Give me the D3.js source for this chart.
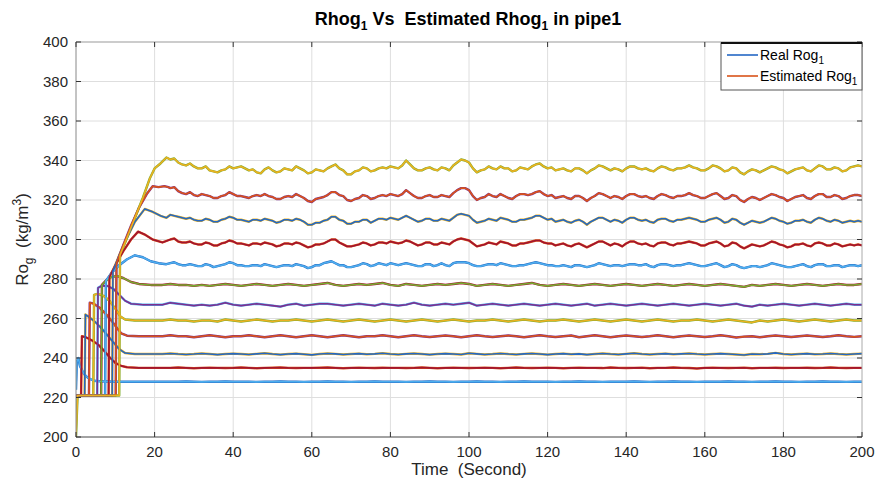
<!DOCTYPE html>
<html>
<head>
<meta charset="utf-8">
<script src="https://cdn.jsdelivr.net/npm/d3@7/dist/d3.min.js"></script>
<style>
  html, body { margin: 0; padding: 0; background: #fff; }
  svg { display: block; }
  text { font-family: "Liberation Sans", Arial, Helvetica, sans-serif; white-space: pre; }
</style>
</head>
<body>
<svg id="chart" width="875" height="483"></svg>
<script>
// ---------------- DATA ----------------
const xTicks = [0, 20, 40, 60, 80, 100, 120, 140, 160, 180, 200];
const yTicks = [200, 220, 240, 260, 280, 300, 320, 340, 360, 380, 400];
const legendLabels = ["Real Rog", "Estimated Rog"];
const matlabColors = ["#2468C4", "#D95319", "#EDB120", "#7E2F8E", "#77AC30", "#4DAEEE", "#A2142F"];

// steady part starts at t = 24 s; sample step (s) for each level (low -> high)
const steadyStart = 24;
const steadyStepByLevel = [2, 2, 2, 2, 2, 2, 2, 1, 1, 1, 1, 1];

// transient part [time, value] for each of the 12 gas densities (low -> high)
const transients = [
  [[0,224],[0.2,238],[0.6,240],[1,236],[2,232],[3,230],[4.5,228.5],[6,228.2],[10,228],[16,228],[22,228]],
  [[0,221],[1.3,221],[1.5,251],[2.5,250.5],[4,249],[5.5,247],[7,244],[8.5,240.5],[10,237.5],[11.5,236],[13,235.3],[16,235],[22,235]],
  [[0,221],[2.2,221],[2.4,262],[3.5,260.5],[5,258],[6.5,255],[8,251.5],[9.5,248],[11,244.5],[12.5,242.5],[15,242],[22,242]],
  [[0,221],[3.3,221],[3.5,268],[4.5,267.5],[6,265.5],[7.5,262.5],[9,259],[10.5,255],[11.5,252.5],[13,251.3],[16,251],[22,251]],
  [[0,221],[4.4,221],[4.6,272],[5.5,272.5],[7,271.5],[8.5,269],[10,265],[11.3,261],[12.5,259.5],[15,259],[22,259]],
  [[0,221],[5.4,221],[5.6,275.5],[6.5,276.5],[8,276.5],[9.5,275],[11,272],[12.5,269],[14,267.5],[17,267],[22,267]],
  [[0,221],[6.4,221],[6.6,277],[7.5,279],[9,281],[10.5,281.5],[12,280.5],[14,278.5],[16,277.5],[19,277],[22,277]],
  [[0,221],[7.4,221],[7.6,279],[9,283],[11,287],[13,290],[15,292],[17,291],[19,289],[21,288],[23,287.5]],
  [[0,221],[8.3,221],[8.5,281],[10,287],[12,294],[14,300],[15.8,304],[17.5,302.5],[19.5,300],[22,298.5]],
  [[0,221],[9.2,221],[9.4,284],[11,292],[13,301],[15,309],[17.5,315.5],[19.5,314],[21.5,312],[23,311]],
  [[0,221],[10.1,221],[10.3,288],[12,297],[14,307],[16,316],[18,323],[19.5,327],[21,326.5],[22.5,327],[23.5,326.5]],
  [[0,200],[0.4,221],[11,221],[11.2,292],[13,301],[15,311],[17,321],[18.8,331],[20,336],[21.5,338.5],[23,341.5]]
];

// ---- steady values, 2 s step ----
const steady228 = [
  228,228,228.1,228,227.9,228,228,228.1,228,228,
  228,227.9,228,228,228.1,228,228,227.9,228,228,
  228.1,228,228,227.9,228,228,228.1,228,228,228,
  227.9,228,228,228.1,228,228,227.9,228,228,228.1,
  228,228,227.9,228,228,228.1,228,228,228,227.9,
  228,228,228.1,228,228,227.9,228,228,228,228.1,
  228,227.9,228,228,228.1,228,228,227.9,228,228,
  228,228.1,228,228,227.9,228,228,228.1,228,228,
  227.9,228,228,228.1,228,228,227.9,228,228
];
const steady235 = [
  235,235.2,235,234.8,235,235.1,235,234.9,235,235.2,
  235,234.8,235,235.1,235.2,235,234.9,235,235,235.1,
  235.2,235,234.8,235,235.1,235,234.9,235.1,235,235,
  234.9,235,235.2,235,234.8,235,235.1,235,234.9,235,
  235.1,235,234.8,235,235.2,235,234.9,235,235.1,235,
  234.8,235,235.1,235,235,234.9,235.2,235,234.9,235,
  235.1,234.8,235,235,235.2,235,234.9,234.7,235,235.1,
  235,234.9,235,235.1,234.8,235,235,235.1,234.9,235,
  235,235.1,234.9,235,235.2,235,234.9,235,235
];
const steady242 = [
  242.3,242,241.8,242,242.3,242,241.7,242,242.2,242,
  241.8,242.1,242.4,242,241.7,242,242.2,241.9,241.6,242,
  242.3,242.1,241.8,242,242.2,241.9,242.1,242.4,242,241.8,
  242.1,242.3,242,241.7,242,242.2,242,241.8,242.4,242.1,
  241.8,242,242.3,242,241.8,242.1,242.3,242,241.7,242,
  242.2,241.9,242.1,241.7,242,242.3,242,241.8,242.1,242.4,
  242,241.8,242,242.2,241.9,242.1,242.3,242,241.8,242,
  242.2,242,241.8,241.5,242,241.9,242.1,242.6,242,241.8,
  242,242.2,241.9,242,242.3,242,241.8,242,242.2
];
const steady251 = [
  251.5,251,251,250.5,251,251.5,251,250.5,251,251,
  251.5,251,250.5,251,251.5,251,250.5,251,251.5,251,
  250.5,251,251.5,251,250.5,251,251,251.5,251,250.5,
  251,251.5,251,250.6,251,251.4,251,250.5,251,251.5,
  251,250.6,251,251.4,251,250.5,251,251.5,251,250.6,
  251,251.4,250.5,251,251.5,251,250.5,251,251.4,251,
  250.6,251,251.5,251,250.5,251,251.4,251,250.6,251,
  251.5,251,250.4,250.8,251,250.5,251,251.4,251,250.6,
  251,251.4,251,250.6,251,251.5,251,250.7,251
];
const steady259 = [
  259.5,259,259,258.5,259,259,258.5,259.5,259,258.5,
  259,259.5,259,258.5,259,259,259.5,259,258.5,259,
  259.5,259,258.5,259,259.5,259,258.5,259,259.5,259,
  258.5,259,259.5,259,258.5,259,259.5,259,258.5,259,
  259,259.5,259,258.5,259,259.5,259,258.5,259,259,
  259.5,259,258.5,259,259.5,259,258.5,259,259.5,259,
  258.5,259,259.5,259,258.5,259,259,259.5,259,258.5,
  259,259.5,259,258.5,258,259,258.5,259,259.5,259,
  258.5,259,259.5,259,258.5,259,259.5,259,259
];
const steady267 = [
  268,267.5,267,266.5,267,266.5,267,268,267,266.5,
  267,267.5,267,266.5,266,267,267.5,266.5,267,267.5,
  267.5,267,266.5,267,267.5,267,266.5,267.5,267,266.5,
  267,268,267,266.5,267,267.5,267,267.5,268,266.5,
  267,267.5,267,266.5,267,267.5,267,266.5,267,267.5,
  267,266.5,267,267.5,266.5,267,267.5,267,266.5,267,
  267.5,267,266.5,267,267.5,267,266.5,267,267.5,267,
  266.5,267,267.5,266.5,266,267,266.5,267,267.5,267,
  266.5,267,267.5,267,266.5,267,267.5,267,267
];
const steady277 = [
  277.5,277,277,276.5,277,276.5,277,277.5,277,276.5,
  277,277.5,277,276.5,277,277.5,277,276.5,277,277.5,
  278,277,276.5,277,277.5,277,277.5,278,277,276.5,
  277.5,277,276.5,277,277.5,277,277.5,278,277.5,276.5,
  277,277.5,277,276.5,277,277.5,278,277,276.5,277,
  277.5,277,276.5,277,277.5,277,276.5,277,277.5,277,
  276.5,277,277.5,277,276.5,277,277.5,277,276.5,277,
  277.5,277,276.5,276,277,276.5,277,277.5,277,276.5,
  277,277.5,277,276.5,277,277.5,277,277,277.5
];

// ---- steady values, 1 s step ----
const steady287 = [
  288,288.5,287.5,287,287,287.5,287,286.5,286.5,287.5,287,286,286.5,287,287.5,288.5,288,287,287,286.5,
  286.5,287,287,286.5,287.5,287,286.5,286,286.5,287,287,286.5,287.5,287,286.5,285.5,286,287,287,288,
  288.5,289,288,287,287,286,286,286.5,287,288,287.5,286.5,287,288,287.5,287,288,287.5,287,287.5,
  288,287.5,287,286.5,286.5,287.5,287.5,286.5,287,288,287,286.5,288,288.5,288.5,288.5,288,287,286.5,286.5,
  287,287.5,287.5,287,288,287.5,287,286.5,286.5,287,287,287.5,288,288.5,288,287.5,287,287,286.5,286.5,
  287,286.5,286,287,287,286.5,286,286.5,287,288,287.5,287,286.5,287,287,286.5,287,287.5,287.5,287,
  287,287.5,286.5,286,287,287.5,287.5,287,286.5,287,287,287.5,288,287.5,287,286.5,286.5,287,287.5,288,
  287,286,286.5,287.5,287,286,285.5,286,286.5,286.5,286,286.5,287,288,287.5,287,286.5,286,286,286.5,
  287,287.5,286.5,286,287,287.5,287.5,286.5,286.5,287,287,286,286.5,287,287,286.5,287
];
const steady298 = [
  300,300.5,299,298.5,298.5,299,298,297.5,297.5,298.5,298,297,297,298,298.5,299.5,299,298,298,297.5,
  297,298,298,297.5,298.5,298,297.5,296.5,297,298,298,297.5,298.5,298,297,296,296.5,297.5,297.5,298,
  299,300,300,298.5,297.5,296.5,296.5,297,297.5,298.5,298,297,297.5,298.5,298.5,298,299,298.5,298,298.5,
  299.5,299,298,297,297.5,298.5,298.5,297.5,297.5,298.5,298,297.5,299,300,300.5,300,299.5,298,296.5,297,
  297.5,298.5,298,297.5,299,298.5,298,297,297,298,298,298.5,299,299.5,299.5,298.5,298,298,297,297.5,
  298,297,296.5,297.5,298,297,296,297,298,299,299,298,297,298,297.5,296.5,298,299,299,298,
  297.5,298,297,296.5,298,298.5,298.5,297.5,297,298,298,298.5,299,298.5,298,297,297,298,298.5,299,
  298,296.5,297,298.5,298,296.5,295.5,296.5,297.5,297,296.5,297,298,299,298.5,297.5,297,296,296.5,297.5,
  297.5,298,297,296.5,298,298.5,298,297,297,298,297.5,296.5,297,297.5,297,297.5,297
];
const steady310 = [
  312.5,312,311.5,311,310.5,311,310,309.5,309.5,310.5,310,309,309,310,310.5,311.5,311,310,310,309.5,
  309,310,310,309.5,310.5,310,309.5,308.5,309,310,310,309.5,310.5,310,309,307.5,307.5,308.5,308.5,309.5,
  310,311.5,311.5,310,309.5,308,308,309,309,310,310,308.5,309.5,310.5,310.5,310,311,310.5,310,311,
  312,311,310,309,309.5,310.5,310.5,309.5,309.5,310.5,310,309.5,311,312.5,313,312.5,312,310,308.5,309,
  309.5,310.5,310,309.5,311,310.5,310,309,309,310,310,310.5,311,312,312,311,310,310.5,309,309.5,
  310,309,308.5,309.5,310,309,307.5,309,310,311,311,310,309,310,309.5,308.5,310,311,311,310,
  309.5,310,309,308.5,310,310.5,310.5,309.5,309,310,310,310.5,311,310.5,310,309,309,310,310.5,311,
  310,308.5,309,310.5,310,308.5,307.5,308.5,309.5,309,308.5,309,310,311,310.5,309.5,309,308,308.5,309.5,
  309.5,310,309,308.5,310,311,310.5,309.5,309,310,309.5,308.5,309,309.5,309,309.5,309
];
const steady322 = [
  326,326.5,324.5,323.5,323,324,322.5,322,323,322.5,322,321,321,322,322.5,324,323,322,322,321.5,
  321,322,322.5,322,323,322,321.5,320.5,320.5,321.5,322,321.5,323,322,321,319.5,319,320.5,321,321.5,
  322.5,324,324,322.5,322,320,319.5,320.5,321,322.5,322,320.5,321,322,322.5,322,323,322.5,322,323,
  325,323.5,322,321,321,322,322.5,321.5,321.5,322.5,322,321.5,323.5,325,326,326,325,322,320,321,
  321.5,323,322,321.5,323,322,321,320.5,322,323,323,322.5,323,324,324.5,323,322,322.5,321,321.5,
  322,321,320.5,322,322,321,319.5,321,322,323.5,323,322,321,322,321.5,320.5,322,323,323,322,
  321.5,322,321,320.5,322,323,322.5,321.5,321,322,322,322.5,323.5,322.5,322,321,321,322,323,323.5,
  322,320.5,321,322.5,322,320,319,320.5,321.5,321,320,321,322,323,322.5,321.5,321,319.5,320.5,321.5,
  322,322.5,321,320.5,322,323,323,321.5,321.5,322.5,322,320.5,321,322,322.5,322.5,322
];
const steady336 = [
  340.5,341,339,338,337.5,338.5,337,336,336,337,335,334.5,334,335,335.5,337,336,336.5,337,336,
  335,335.5,334,333.5,335.5,336.5,335,334,334.5,336,335.5,335,337,336,335,333.5,334,335.5,335,334.5,
  336,337,338,336,335,333,333,334.5,335,336.5,336,334.5,335,336,336.5,336,337,336.5,336,337.5,
  340,338,336,335,335,336,336.5,335.5,335,336.5,336,335,337.5,339,340.5,340,339,336,334,335,
  335.5,337,336,335.5,337,336,336,334.5,335,336.5,336,335.5,337,338,338.5,337,336,336.5,335,335.5,
  336,335,334.5,336,336,335,333.5,335,336,337.5,337,336,335,336,335.5,334.5,336,337,337,336,
  335.5,336,335,334.5,336,337,336.5,335.5,335,336,336,336.5,337.5,336.5,336,335,335,336,337.5,337,
  336,334.5,335,336.5,336,334,333,334.5,335.5,335,334,335,336,337,336.5,335.5,335,333.5,334.5,335.5,
  336,336.5,335,334.5,336,337.5,337,335.5,335.5,336.5,336,334.5,335,336.5,337,337.5,337
];
const steadyLevels = [steady228, steady235, steady242, steady251, steady259, steady267,
                      steady277, steady287, steady298, steady310, steady322, steady336];

// ---------------- LAYOUT ----------------
const svg = d3.select("#chart");
const M = { left: 76, right: 862, top: 42, bottom: 437 };
const x = d3.scaleLinear().domain([0, 200]).range([M.left, M.right]);
const y = d3.scaleLinear().domain([200, 400]).range([M.bottom, M.top]);

svg.append("rect").attr("width", 875).attr("height", 483).attr("fill", "#fff");

// grid
const grid = svg.append("g");
grid.selectAll(".gx").data(xTicks.slice(1, -1)).join("line")
  .attr("x1", d => x(d)).attr("x2", d => x(d)).attr("y1", M.top).attr("y2", M.bottom)
  .attr("stroke", "#dedede").attr("stroke-width", 1);
grid.selectAll(".gy").data(yTicks.slice(1, -1)).join("line")
  .attr("x1", M.left).attr("x2", M.right).attr("y1", d => y(d)).attr("y2", d => y(d))
  .attr("stroke", "#dedede").attr("stroke-width", 1);

// series
const series = steadyLevels.map((vals, k) => {
  const pts = transients[k].slice();
  vals.forEach((v, i) => pts.push([steadyStart + steadyStepByLevel[k] * i, v]));
  return pts;
});

svg.append("clipPath").attr("id", "clip").append("rect")
  .attr("x", M.left).attr("y", M.top).attr("width", M.right - M.left).attr("height", M.bottom - M.top);

const line = d3.line().x(d => x(d[0])).y(d => y(d[1]));
const plot = svg.append("g").attr("clip-path", "url(#clip)");
// real lines first (colour order 0..11), then estimated lines (12..23)
series.forEach((pts, k) => {
  plot.append("path").attr("d", line(pts)).attr("fill", "none")
    .attr("stroke", matlabColors[k % 7]).attr("stroke-width", 2.4).attr("stroke-linejoin", "round");
});
series.forEach((pts, k) => {
  plot.append("path").attr("d", line(pts)).attr("fill", "none")
    .attr("stroke", matlabColors[(k + 12) % 7]).attr("stroke-width", 1.6).attr("stroke-linejoin", "round");
});

// axes box
svg.append("line").attr("x1", M.left).attr("x2", M.right).attr("y1", M.top).attr("y2", M.top).attr("stroke", "#999");
svg.append("line").attr("x1", M.right).attr("x2", M.right).attr("y1", M.top).attr("y2", M.bottom).attr("stroke", "#aaa");
svg.append("line").attr("x1", M.left).attr("x2", M.left).attr("y1", M.top).attr("y2", M.bottom).attr("stroke", "#888");
svg.append("line").attr("x1", M.left).attr("x2", M.right).attr("y1", M.bottom).attr("y2", M.bottom).attr("stroke", "#444");

// ticks (inward on all sides)
const tk = svg.append("g").attr("stroke", "#333").attr("stroke-width", 1);
xTicks.forEach(t => {
  tk.append("line").attr("x1", x(t)).attr("x2", x(t)).attr("y1", M.bottom).attr("y2", M.bottom - 5);
  tk.append("line").attr("x1", x(t)).attr("x2", x(t)).attr("y1", M.top).attr("y2", M.top + 5);
});
yTicks.forEach(t => {
  tk.append("line").attr("x1", M.left).attr("x2", M.left + 5).attr("y1", y(t)).attr("y2", y(t));
  tk.append("line").attr("x1", M.right).attr("x2", M.right - 5).attr("y1", y(t)).attr("y2", y(t));
});

// tick labels
svg.append("g").selectAll("text").data(xTicks).join("text")
  .attr("x", d => x(d)).attr("y", 457).attr("text-anchor", "middle")
  .attr("font-size", 15).attr("fill", "#262626").text(d => d);
svg.append("g").selectAll("text").data(yTicks).join("text")
  .attr("x", 68).attr("y", d => y(d) + 5).attr("text-anchor", "end")
  .attr("font-size", 15).attr("fill", "#262626").text(d => d);

// x label
svg.append("text").attr("x", x(100)).attr("y", 475).attr("text-anchor", "middle")
  .attr("font-size", 17).attr("fill", "#262626").text("Time  (Second)");

// y label
const yl = svg.append("text").attr("transform", `translate(28,${(M.top + M.bottom) / 2}) rotate(-90)`)
  .attr("text-anchor", "middle").attr("font-size", 17).attr("fill", "#262626");
yl.append("tspan").text("Ro");
yl.append("tspan").attr("dy", 5).attr("font-size", 12).text("g");
yl.append("tspan").attr("dy", -5).text("  (kg/m");
yl.append("tspan").attr("dy", -7).attr("font-size", 12).text("3");
yl.append("tspan").attr("dy", 7).text(")");

// title
const title = svg.append("text").attr("x", 468).attr("y", 25).attr("text-anchor", "middle")
  .attr("font-size", 18).attr("font-weight", "bold").attr("fill", "#000");
title.append("tspan").text("Rhog");
title.append("tspan").attr("dy", 5).attr("font-size", 12).text("1");
title.append("tspan").attr("dy", -5).text(" Vs  Estimated Rhog");
title.append("tspan").attr("dy", 5).attr("font-size", 12).text("1");
title.append("tspan").attr("dy", -5).text(" in pipe1");

// legend
const lg = svg.append("g");
lg.append("rect").attr("x", 721).attr("y", 43).attr("width", 141).attr("height", 47)
  .attr("fill", "#fff").attr("stroke", "#555").attr("stroke-width", 1);
lg.append("line").attr("x1", 721).attr("x2", 862).attr("y1", 43).attr("y2", 43).attr("stroke", "#111").attr("stroke-width", 2);
legendLabels.forEach((lab, i) => {
  const ly = 55 + i * 21;
  lg.append("line").attr("x1", 727).attr("x2", 758).attr("y1", ly).attr("y2", ly)
    .attr("stroke", matlabColors[i]).attr("stroke-width", 1.6);
  const t = lg.append("text").attr("x", 760).attr("y", ly + 5).attr("font-size", 14).attr("fill", "#000");
  t.append("tspan").text(lab);
  t.append("tspan").attr("dy", 4).attr("font-size", 10).text("1");
});
</script>
</body>
</html>
